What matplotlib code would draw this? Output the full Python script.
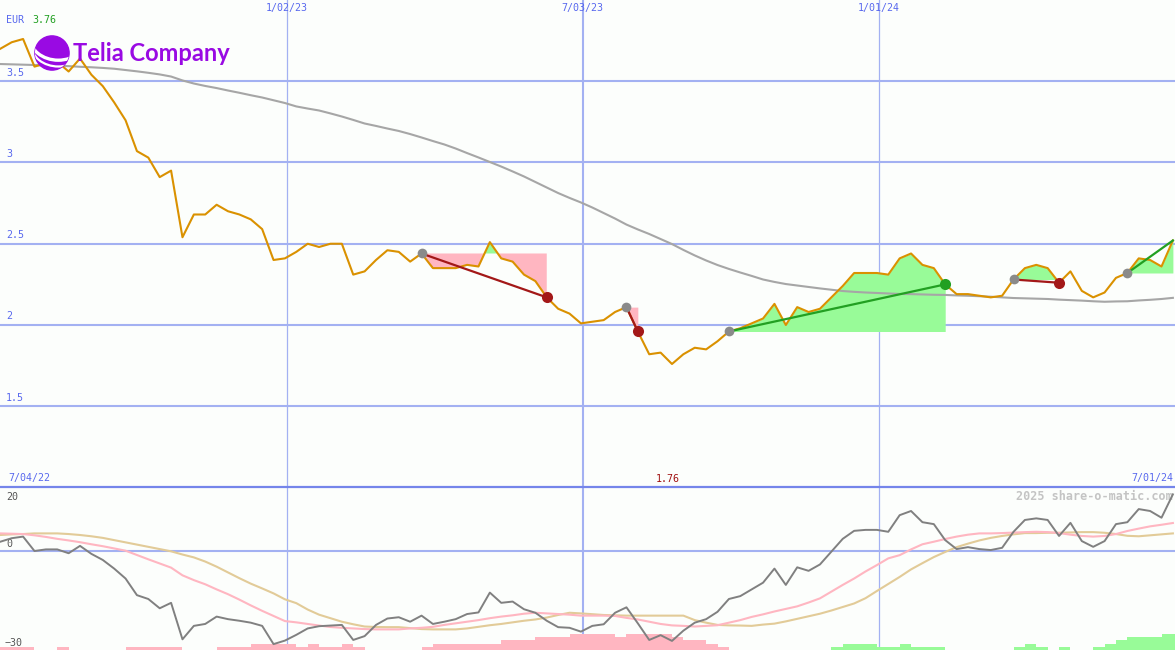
import matplotlib
matplotlib.use("Agg")
import matplotlib.pyplot as plt
import matplotlib.dates as mdates
import matplotlib.transforms as mtransforms
from matplotlib.patches import Ellipse, Arc
import numpy as np
import pandas as pd

# weekly closes, Telia Company (EUR)
weeks = pd.date_range("2022-07-10", periods=104, freq="7D")

price = [3.70, 3.74, 3.76, 3.59, 3.61, 3.62, 3.56, 3.64, 3.54, 3.47,
         3.37, 3.26, 3.07, 3.03, 2.91, 2.95, 2.54, 2.68, 2.68, 2.74,
         2.70, 2.68, 2.65, 2.59, 2.40, 2.41, 2.45, 2.50, 2.48, 2.50,
         2.50, 2.31, 2.33, 2.40, 2.46, 2.45, 2.39, 2.44, 2.35, 2.35,
         2.35, 2.37, 2.36, 2.51, 2.41, 2.39, 2.31, 2.27, 2.17, 2.10,
         2.07, 2.01, 2.02, 2.03, 2.08, 2.11, 1.96, 1.82, 1.83, 1.76,
         1.82, 1.86, 1.85, 1.90, 1.96, 1.98, 2.01, 2.04, 2.13, 2.00,
         2.11, 2.08, 2.10, 2.17, 2.24, 2.32, 2.32, 2.32, 2.31, 2.41,
         2.44, 2.37, 2.35, 2.25, 2.19, 2.19, 2.18, 2.17, 2.18, 2.28,
         2.35, 2.37, 2.35, 2.26, 2.33, 2.21, 2.17, 2.20, 2.29, 2.32,
         2.41, 2.40, 2.36, 2.52]

moving_avg = [3.606, 3.604, 3.602, 3.600, 3.598, 3.595, 3.593, 3.589, 3.586, 3.582,
              3.577, 3.569, 3.561, 3.552, 3.542, 3.529, 3.505, 3.486, 3.471, 3.458,
              3.443, 3.429, 3.414, 3.400, 3.383, 3.366, 3.345, 3.332, 3.320, 3.302,
              3.283, 3.262, 3.240, 3.225, 3.209, 3.194, 3.175, 3.154, 3.132, 3.111,
              3.086, 3.058, 3.031, 3.003, 2.975, 2.945, 2.914, 2.880, 2.846, 2.812,
              2.782, 2.754, 2.723, 2.689, 2.655, 2.618, 2.588, 2.560, 2.529, 2.498,
              2.462, 2.428, 2.397, 2.369, 2.345, 2.323, 2.302, 2.280, 2.265, 2.252,
              2.243, 2.234, 2.225, 2.217, 2.209, 2.204, 2.200, 2.197, 2.194, 2.191,
              2.190, 2.188, 2.186, 2.185, 2.182, 2.180, 2.177, 2.174, 2.170, 2.166,
              2.164, 2.162, 2.160, 2.156, 2.153, 2.150, 2.146, 2.143, 2.145, 2.146,
              2.151, 2.155, 2.160, 2.167]

momentum = [2.9, 4.0, 4.5, 0.0, 0.5, 0.5, -0.7, 1.6, -0.9, -2.8,
            -5.5, -8.6, -13.8, -15.0, -17.9, -16.2, -27.6, -23.4, -22.8, -20.5,
            -21.3, -21.8, -22.4, -23.4, -29.1, -28.0, -26.2, -24.2, -23.5, -23.3,
            -23.1, -27.8, -26.6, -23.1, -21.1, -20.7, -22.1, -20.2, -22.8, -22.1,
            -21.3, -19.7, -19.2, -13.0, -16.2, -15.8, -18.2, -19.3, -21.8, -23.8,
            -24.0, -25.2, -23.4, -22.9, -19.3, -17.6, -22.6, -27.8, -26.3, -28.1,
            -24.9, -22.4, -21.3, -19.0, -15.0, -14.1, -12.0, -9.9, -5.5, -10.6,
            -5.1, -6.2, -4.2, -0.2, 3.8, 6.3, 6.6, 6.6, 6.0, 11.2,
            12.5, 9.0, 8.4, 3.4, 0.6, 1.2, 0.6, 0.3, 1.0, 6.0,
            9.7, 10.2, 9.7, 4.7, 8.8, 3.1, 1.3, 3.1, 8.4, 9.0,
            13.1, 12.5, 10.4, 17.7]

mom_fast = [5.5, 5.4, 5.3, 4.9, 4.4, 3.8, 3.3, 2.75, 2.1, 1.5,
            0.8, 0.1, -1.25, -2.6, -3.9, -5.2, -7.6, -9.1, -10.4, -12.0,
            -13.5, -15.2, -17.0, -18.7, -20.3, -21.9, -22.3, -22.8, -23.3, -23.75,
            -24.0, -24.2, -24.4, -24.5, -24.5, -24.5, -24.2, -24.0, -23.7, -23.1,
            -22.6, -22.1, -21.6, -21.0, -20.5, -20.1, -19.6, -19.3, -19.5, -19.7,
            -19.9, -20.2, -20.2, -20.2, -20.3, -20.9, -21.4, -22.1, -22.8, -23.25,
            -23.4, -23.6, -23.4, -23.2, -22.4, -21.6, -20.6, -19.8, -18.9, -18.1,
            -17.3, -16.1, -14.8, -12.7, -10.6, -8.6, -6.4, -4.4, -2.3, -1.3,
            0.5, 2.1, 2.9, 3.75, 4.5, 5.1, 5.5, 5.5, 5.6, 5.75,
            5.9, 6.0, 5.9, 5.6, 5.1, 4.7, 4.5, 4.7, 5.3, 6.25,
            7.0, 7.7, 8.2, 8.75]

mom_slow = [5.0, 5.2, 5.3, 5.5, 5.5, 5.5, 5.3, 5.0, 4.6, 4.1,
            3.4, 2.7, 2.0, 1.3, 0.6, -0.1, -1.1, -2.0, -3.3, -4.9,
            -6.7, -8.5, -10.2, -11.7, -13.25, -15.1, -16.3, -18.3, -19.9, -21.0,
            -22.1, -22.9, -23.6, -23.75, -23.8, -23.8, -24.1, -24.4, -24.5, -24.5,
            -24.5, -24.2, -23.7, -23.2, -22.8, -22.3, -21.8, -21.4, -20.8, -20.0,
            -19.3, -19.5, -19.75, -20.0, -20.1, -20.2, -20.2, -20.2, -20.2, -20.2,
            -20.2, -21.6, -22.4, -23.1, -23.25, -23.3, -23.4, -23.0, -22.7, -22.0,
            -21.2, -20.4, -19.6, -18.6, -17.5, -16.4, -14.75, -12.5, -10.3, -8.1,
            -5.75, -3.8, -1.9, -0.3, 1.2, 2.3, 3.3, 4.1, 4.7, 5.2,
            5.6, 5.6, 5.7, 5.7, 5.8, 5.9, 5.9, 5.7, 5.3, 4.75,
            4.6, 4.9, 5.2, 5.5]

# trend strength bars (negative = pink, positive = green)
strength = [-1, -1, -1, 0, 0, -1, 0, 0, 0, 0,
            0, -1, -1, -1, -1, -1, 0, 0, 0, -1,
            -1, -1, -2, -2, -2, -2, -1, -2, -1, -1,
            -2, -1, 0, 0, 0, 0, 0, -1, -2, -2,
            -2, -2, -2, -2, -3, -3, -3, -4, -4, -4,
            -5, -5, -5, -5, -4, -5, -5, -5, -5, -4,
            -3, -3, -2, -1, 0, 0, 0, 0, 0, 0,
            0, 0, 0, 1, 2, 2, 2, 1, 1, 2,
            1, 1, 1, 0, 0, 0, 0, 0, 0, 1,
            2, 1, 0, 1, 0, 0, 1, 2, 3, 4,
            4, 4, 5, 5]

# signals: entry week index, exit week index, outcome
trade_start = [37, 55, 64, 89, 99]
trade_end = [48, 56, 83, 93, 103]
trade_result = ["loss", "loss", "gain", "loss", "open"]

price_grid = [1.5, 2, 2.5, 3, 3.5]
date_lines = ["2023-01-02", "2023-07-03", "2024-01-01"]
date_labels = ["1/02/23", "7/03/23", "1/01/24"]

bg = "#fcfefc"
grid_c = "#a3b1f2"
blue_txt = "#5868ee"
mono = "DejaVu Sans Mono"

fig = plt.figure(figsize=(11.75, 6.5), dpi=100)
fig.patch.set_facecolor(bg)
ax = fig.add_axes([0, 163 / 650, 1, 487 / 650])
ax2 = fig.add_axes([0, 0, 1, 163 / 650])
for a in (ax, ax2):
    a.set_axis_off()

x = mdates.date2num(weeks)
x0 = mdates.date2num(pd.Timestamp("2022-07-10")) - 0.2
x1 = x0 + 722.5
for a in (ax, ax2):
    a.set_xlim(x0, x1)
ax.set_ylim(1.003, 4.0)
ax2.set_ylim(-30.94, 20)

# grid
for g in price_grid:
    ax.axhline(g, color=grid_c, lw=1.5, zorder=1)
ax2.axhline(0, color=grid_c, lw=1.5, zorder=1)
top_t = mtransforms.blended_transform_factory(ax.transData, ax.transAxes)
for d, lab in zip(date_lines, date_labels):
    xd = mdates.date2num(pd.Timestamp(d))
    w = 1.5 if lab == "7/03/23" else 0.9
    ax.axvline(xd, color=grid_c, lw=w, zorder=1)
    ax2.axvline(xd, color=grid_c, lw=w, zorder=1)
    ax.text(xd, 0.993, lab, transform=top_t, ha="center", va="top", fontsize=7.2, family=mono, color=blue_txt)
ax2.axhline(20, color="#7585ea", lw=1.6, zorder=5, clip_on=False)

ylab_t = mtransforms.blended_transform_factory(ax.transAxes, ax.transData)
for g in price_grid:
    ax.text(6 / 1175, g + 0.022, f"{g:g}", transform=ylab_t, ha="left", va="bottom",
            fontsize=7.2, family=mono, color=blue_txt)

# price panel
for s, e, r in zip(trade_start, trade_end, trade_result):
    seg_x = x[s:e + 1]
    seg_p = np.array(price[s:e + 1])
    lvl = price[s]
    ax.fill_between(seg_x, lvl, seg_p, where=seg_p >= lvl, interpolate=True, color="#98fb98", lw=0, zorder=2)
    ax.fill_between(seg_x, lvl, seg_p, where=seg_p <= lvl, interpolate=True, color="#ffb6c1", lw=0, zorder=2)

ax.plot(x, moving_avg, color="#a6a6a6", lw=1.5, zorder=3)
ax.plot(x, price, color="#da9100", lw=1.5, zorder=4)

for s, e, r in zip(trade_start, trade_end, trade_result):
    lc = "#a31818" if r == "loss" else "#22a022"
    ax.plot([x[s], x[e]], [price[s], price[e]], color=lc, lw=1.6, zorder=5)
    ax.plot(x[s], price[s], "o", color="#8a8a8a", ms=7, mec="none", zorder=6)
    if r != "open":
        ax.plot(x[e], price[e], "o", color=lc, ms=8, mec="none", zorder=6)

fig.text(6 / 1175, 1 - 20 / 650, "EUR", ha="left", va="center", fontsize=7.2, family=mono, color=blue_txt)
fig.text(32 / 1175, 1 - 20 / 650, f"{max(price):.2f}", ha="left", va="center", fontsize=7.2,
         family=mono, color="#22a022")
imin = int(np.argmin(price))
ax.text(x[imin] - 2.5, 0.006, f"{min(price):.2f}", transform=top_t, ha="center", va="bottom",
        fontsize=7.2, family=mono, color="#a01010")
fig.text(8 / 1175, 1 - 478 / 650, "7/04/22", ha="left", va="center", fontsize=7.2, family=mono, color=blue_txt)
fig.text(1173 / 1175, 1 - 478 / 650, "7/01/24", ha="right", va="center", fontsize=7.2, family=mono, color=blue_txt)

# logo
logo = fig.add_axes([34 / 1175, 1 - 71 / 650, 36 / 1175, 36 / 650])
logo.set_axis_off()
logo.set_xlim(-1, 1)
logo.set_ylim(-1, 1)
ball = Ellipse((0, 0), 1.9, 1.9, color="#990ae3")
logo.add_patch(ball)
for cy, wd, ht, lw in [(0.9, 3.2, 2.6, 2.4), (0.45, 3.0, 2.4, 1.6)]:
    arc = Arc((0.35, cy), wd, ht, theta1=180, theta2=360, color="white", lw=lw)
    logo.add_patch(arc)
    arc.set_clip_path(ball)
fig.text(73 / 1175, 1 - 61 / 650, "Telia Company", ha="left", va="baseline", fontsize=17,
         fontweight="bold", family="Lato", color="#990ae3")

# lower panel
ax2.plot(x, mom_slow, color="#e2cb98", lw=1.5, zorder=3)
ax2.plot(x, mom_fast, color="#ffb6c1", lw=1.5, zorder=3)
ax2.plot(x, momentum, color="#808080", lw=1.4, zorder=4)
st = np.array(strength)
bar_c = np.where(st < 0, "#ffb6c1", "#98fb98")
ax2.bar(x, np.abs(st), width=7, bottom=-30.94, align="edge", color=bar_c, lw=0, zorder=2)

lbl_t = mtransforms.blended_transform_factory(ax2.transAxes, ax2.transData)
ax2.text(6 / 1175, 17.0, "20", transform=lbl_t, ha="left", va="center", fontsize=7.2, family=mono, color="#555555")
ax2.text(6 / 1175, 0.6, "0", transform=lbl_t, ha="left", va="bottom", fontsize=7.2, family=mono, color="#555555")
ax2.text(5 / 1175, -30.3, "\u221230", transform=lbl_t, ha="left", va="bottom", fontsize=7.2, family=mono,
         color="#555555", zorder=6)
ax2.text(1173 / 1175, 17.0, "2025 share-o-matic.com", transform=lbl_t, ha="right", va="center", fontsize=8.5,
         fontweight="bold", family=mono, color="#c4c4c4")

fig.savefig("out.png", dpi=100, facecolor=bg)
